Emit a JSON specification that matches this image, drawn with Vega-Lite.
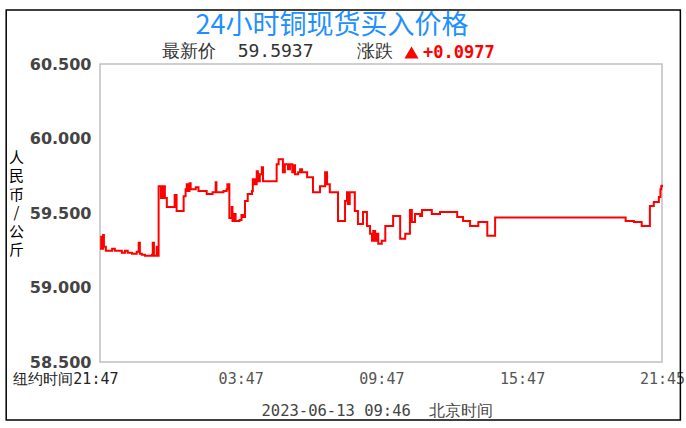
{
  "$schema": "https://vega.github.io/schema/vega-lite/v6.json",
  "width": 562,
  "height": 298,
  "autosize": {"type": "none"},
  "padding": {"left": 100, "top": 64, "right": 24, "bottom": 66},
  "background": "#ffffff",
  "title": {"text": "24小时铜现货买入价格", "anchor": "middle", "frame": "group", "dx": -49, "offset": -31, "font": "Noto Sans CJK SC", "fontSize": 27, "fontWeight": "normal", "color": "#1E90FF"},
  "config": {"view": {"stroke": "#c0c0c0", "strokeWidth": 1.5}},
  "layer": [
    {
      "data": {"values": [{}]},
      "mark": {"type": "rect", "fillOpacity": 0, "stroke": "#000000", "strokeWidth": 1.5},
      "encoding": {
        "x": {"datum": -240, "type": "quantitative"},
        "x2": {"datum": 1485},
        "y": {"datum": 60.862, "type": "quantitative"},
        "y2": {"datum": 58.111}
      }
    },
    {
      "data": {"values": [
        {"m": 0, "p": 59.26}, {"m": 3, "p": 59.34}, {"m": 5, "p": 59.26}, {"m": 8, "p": 59.353}, {"m": 10, "p": 59.273},
        {"m": 15, "p": 59.247}, {"m": 31, "p": 59.26}, {"m": 38, "p": 59.247}, {"m": 56, "p": 59.233}, {"m": 64, "p": 59.247},
        {"m": 71, "p": 59.233}, {"m": 82, "p": 59.227}, {"m": 94, "p": 59.24}, {"m": 99, "p": 59.30}, {"m": 102, "p": 59.227},
        {"m": 107, "p": 59.22}, {"m": 115, "p": 59.213}, {"m": 133, "p": 59.22}, {"m": 135, "p": 59.30}, {"m": 138, "p": 59.213},
        {"m": 145, "p": 59.273}, {"m": 148, "p": 59.213}, {"m": 150, "p": 59.68}, {"m": 156, "p": 59.60}, {"m": 161, "p": 59.68},
        {"m": 166, "p": 59.60}, {"m": 171, "p": 59.54}, {"m": 191, "p": 59.62}, {"m": 196, "p": 59.513}, {"m": 214, "p": 59.613},
        {"m": 219, "p": 59.66}, {"m": 222, "p": 59.693}, {"m": 224, "p": 59.647}, {"m": 229, "p": 59.70}, {"m": 232, "p": 59.66},
        {"m": 245, "p": 59.673}, {"m": 252, "p": 59.647}, {"m": 273, "p": 59.627}, {"m": 288, "p": 59.64}, {"m": 296, "p": 59.707},
        {"m": 298, "p": 59.64}, {"m": 316, "p": 59.647}, {"m": 324, "p": 59.66}, {"m": 326, "p": 59.693}, {"m": 331, "p": 59.467},
        {"m": 337, "p": 59.54}, {"m": 339, "p": 59.447}, {"m": 344, "p": 59.493}, {"m": 347, "p": 59.447}, {"m": 357, "p": 59.453},
        {"m": 362, "p": 59.487}, {"m": 367, "p": 59.473}, {"m": 371, "p": 59.58}, {"m": 378, "p": 59.627}, {"m": 389, "p": 59.647},
        {"m": 391, "p": 59.727}, {"m": 396, "p": 59.693}, {"m": 401, "p": 59.78}, {"m": 404, "p": 59.713}, {"m": 409, "p": 59.76},
        {"m": 414, "p": 59.807}, {"m": 417, "p": 59.713}, {"m": 452, "p": 59.827}, {"m": 457, "p": 59.86}, {"m": 468, "p": 59.773},
        {"m": 473, "p": 59.827}, {"m": 481, "p": 59.793}, {"m": 486, "p": 59.827}, {"m": 492, "p": 59.773}, {"m": 494, "p": 59.82},
        {"m": 499, "p": 59.76}, {"m": 507, "p": 59.773}, {"m": 512, "p": 59.793}, {"m": 517, "p": 59.773}, {"m": 530, "p": 59.74},
        {"m": 545, "p": 59.64}, {"m": 563, "p": 59.68}, {"m": 576, "p": 59.773}, {"m": 581, "p": 59.693}, {"m": 588, "p": 59.64},
        {"m": 609, "p": 59.447}, {"m": 627, "p": 59.58}, {"m": 632, "p": 59.64}, {"m": 634, "p": 59.56}, {"m": 639, "p": 59.64},
        {"m": 652, "p": 59.513}, {"m": 660, "p": 59.427}, {"m": 673, "p": 59.507}, {"m": 683, "p": 59.413}, {"m": 691, "p": 59.36},
        {"m": 696, "p": 59.313}, {"m": 699, "p": 59.38}, {"m": 704, "p": 59.313}, {"m": 708, "p": 59.36}, {"m": 712, "p": 59.293},
        {"m": 721, "p": 59.313}, {"m": 730, "p": 59.413}, {"m": 750, "p": 59.48}, {"m": 768, "p": 59.327}, {"m": 781, "p": 59.36},
        {"m": 793, "p": 59.52}, {"m": 798, "p": 59.44}, {"m": 806, "p": 59.493}, {"m": 819, "p": 59.48}, {"m": 824, "p": 59.52},
        {"m": 849, "p": 59.493}, {"m": 870, "p": 59.507}, {"m": 914, "p": 59.473}, {"m": 929, "p": 59.447}, {"m": 947, "p": 59.413},
        {"m": 968, "p": 59.44}, {"m": 991, "p": 59.347}, {"m": 1011, "p": 59.47}, {"m": 1345, "p": 59.447}, {"m": 1366, "p": 59.44},
        {"m": 1386, "p": 59.413}, {"m": 1407, "p": 59.547}, {"m": 1417, "p": 59.573}, {"m": 1430, "p": 59.607}, {"m": 1434, "p": 59.66},
        {"m": 1436, "p": 59.68}, {"m": 1438, "p": 59.69}
      ]},
      "mark": {"type": "line", "interpolate": "step-after", "strokeWidth": 2},
      "encoding": {
        "x": {
          "field": "m", "type": "quantitative",
          "scale": {"domain": [0, 1438], "nice": false, "zero": false},
          "axis": {
            "values": [0, 360, 720, 1080, 1438],
            "labelExpr": "datum.value == 0 ? '纽约时间21:47' : datum.value == 360 ? '03:47' : datum.value == 720 ? '09:47' : datum.value == 1080 ? '15:47' : '21:45'",
            "ticks": false, "domain": false, "labelFlush": false, "labelOverlap": false,
            "labelFont": "DejaVu Sans Mono", "labelFontSize": 15, "labelPadding": 9,
            "labelColor": {"condition": {"test": "datum.value == 0", "value": "#222222"}, "value": "#555555"},
            "labelAlign": {"condition": {"test": "datum.value == 0", "value": "right"}, "value": "center"},
            "labelOffset": {"condition": {"test": "datum.value == 0", "value": 18}, "value": 0},
            "gridColor": "#c0c0c0", "gridWidth": 1.5,
            "title": "2023-06-13 09:46\u00a0\u00a0北京时间",
            "titleX": 277, "titleY": 48, "titleAlign": "center", "titleBaseline": "middle",
            "titleFont": "DejaVu Sans Mono", "titleFontSize": 15.5, "titleFontWeight": "normal", "titleColor": "#444444"
          }
        },
        "y": {
          "field": "p", "type": "quantitative",
          "scale": {"domain": [58.5, 60.5], "nice": false, "zero": false},
          "axis": {
            "values": [58.5, 59, 59.5, 60, 60.5], "format": ".3f",
            "ticks": false, "domain": false,
            "labelFont": "DejaVu Sans", "labelFontWeight": "bold", "labelFontSize": 16, "labelColor": "#444444", "labelPadding": 9,
            "gridColor": "#c0c0c0", "gridWidth": 1.5,
            "title": ["人", "民", "币", "/", "公", "斤"],
            "titleAngle": 0, "titleX": -84, "titleY": 86, "titleAlign": "center", "titleBaseline": "top",
            "titleFont": "Noto Sans CJK SC", "titleFontSize": 15, "titleFontWeight": "normal", "titleColor": "#000000", "titleLineHeight": 18.5
          }
        },
        "color": {
          "datum": "+0.0977", "type": "nominal",
          "scale": {"range": ["#ff0000"]},
          "legend": {
            "title": "最新价\u00a0\u00a059.5937\u00a0\u00a0\u00a0\u00a0涨跌",
            "titleOrient": "left", "orient": "none", "legendX": 62, "legendY": -20,
            "titleFont": "DejaVu Sans Mono", "titleFontSize": 18, "titleFontWeight": "normal", "titleColor": "#333333",
            "titleLimit": 400, "titlePadding": 10, "padding": 0,
            "symbolType": "triangle-up", "symbolSize": 200, "symbolFillColor": "#ff0000", "symbolStrokeColor": "#ff0000", "symbolStrokeWidth": 0,
            "labelColor": "#ff0000", "labelFont": "DejaVu Sans Mono", "labelFontSize": 17, "labelFontWeight": "bold", "labelOffset": 3, "labelLimit": 200
          }
        }
      }
    }
  ]
}
